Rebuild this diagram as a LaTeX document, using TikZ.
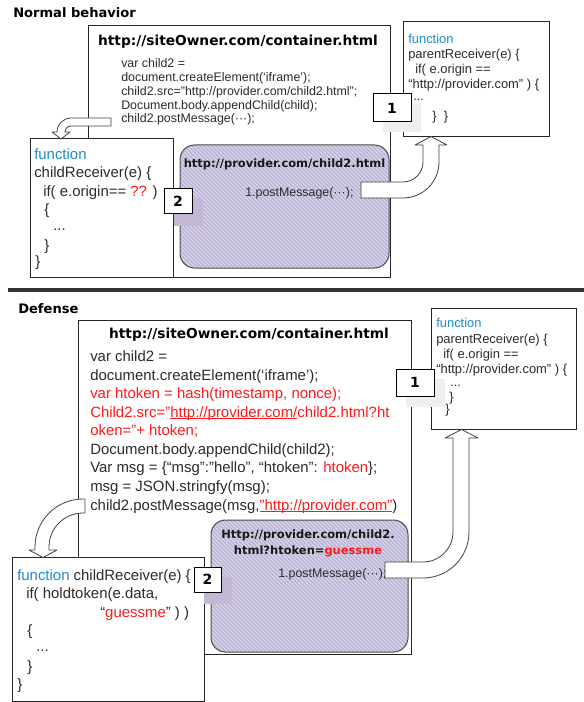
\documentclass[tikz,border=0pt]{standalone}
\usepackage{fontspec}
\setmainfont{Liberation Sans}
\newfontfamily\headfont{DejaVu Sans}
\usetikzlibrary{patterns,fit}
\definecolor{codegray}{HTML}{2B2B2B}
\definecolor{fnblue}{HTML}{1E8BD2}
\definecolor{codered}{HTML}{FF1A1A}
\definecolor{lav}{HTML}{D5D0E5}
\definecolor{lavline}{HTML}{A69EC1}
\definecolor{shadowgray}{HTML}{EFEFEF}
\definecolor{shadowlav}{HTML}{C3B7D4}
\definecolor{rule}{HTML}{333333}
% link-style underline at a fixed depth below the baseline
\newcommand\linkline[1]{\leavevmode\setbox0\hbox{#1}\rlap{\rule[-1.5pt]{\wd0}{0.6pt}}\box0}
\begin{document}
\begin{tikzpicture}[x=0.75pt,y=-0.75pt,
  panel/.style={draw=black!85, line width=0.75pt, fill=white, inner sep=0pt},
  frame/.style={draw=black!70, line width=0.75pt, inner sep=0pt, rounded corners=11pt,
    preaction={fill=lav}, pattern=north west lines, pattern color=lavline},
  numbox/.style={draw=black, line width=0.75pt, fill=white, inner sep=0pt,
    font=\headfont\bfseries\fontsize{10.5pt}{12pt}\selectfont},
  shade/.style={draw=none, inner sep=0pt},
  blockarrow/.style={draw=black!75, fill=white, line width=0.6pt, line join=round},
  heading/.style={anchor=base west, inner sep=0pt, font=\headfont\bfseries\fontsize{9.8pt}{12pt}\selectfont},
  title/.style={anchor=base, inner sep=0pt, font=\headfont\bfseries\fontsize{10.3pt}{12pt}\selectfont},
  ptitle/.style={anchor=base, inner sep=0pt, text=black!90, font=\headfont\bfseries\fontsize{8.6pt}{10pt}\selectfont},
  codes/.style={anchor=base west, inner sep=0pt, text=codegray, font=\fontsize{9.3pt}{11pt}\selectfont},
  codem/.style={anchor=base west, inner sep=0pt, text=codegray, font=\fontsize{9.7pt}{11pt}\selectfont},
  codel/.style={anchor=base west, inner sep=0pt, text=codegray, font=\fontsize{11.2pt}{13pt}\selectfont},
]
\useasboundingbox (0,0) rectangle (584,702);

% ---------------- Normal behavior ----------------
\node[heading] (hnormal) at (13,18) {Normal behavior};

\node[panel, fit={(88,26) (390,277)}] (cont1) {};
\node[panel, fit={(30,139) (173,277)}] (child1) {};
\node[frame, fit={(180,145) (389,268)}] (prov1) {};
\node[panel, fit={(403,22) (549,137)}] (par1) {};

\node[title] (t1) at (238,46) {http://siteOwner.com/container.html};
\node[codes] (a1) at (121,68) {var child2 =};
\node[codes] (a2) at (121,82) {document.createElement(‘iframe’);};
\node[codes] (a3) at (121,96) {child2.src="http://provider.com/child2.html”;};
\node[codes] (a4) at (121,109.5) {Document.body.appendChild(child);};
\node[codes] (a5) at (121,123) {child2.postMessage(···);};

\node[codem] (p1) at (408,44) {\textcolor{fnblue}{function}};
\node[codem] (p2) at (408,59) {parentReceiver(e) \{};
\node[codem] (p3) at (415,74) {if( e.origin ==};
\node[codem] (p4) at (408,89) {“http://provider.com” ) \{};
\node[codem] (p6) at (432,121) {\}\ \ \}};

\node[codel] (k1) at (34,160) {\textcolor{fnblue}{function}};
\node[codel] (k2) at (34,178) {childReceiver(e) \{};
\node[codel] (k3) at (43,196.5) {if( e.origin== \textcolor{codered}{??} )};
\node[codel] (k4) at (44,214.5) {\{};
\node[codel] (k5) at (53,230) {...};
\node[codel] (k6) at (44,250) {\}};
\node[codel] (k7) at (35,266) {\}};

\node[ptitle] (pt1) at (284.5,168) {http://provider.com/child2.html};
\node[codes] (pm1) at (245,196) {1.postMessage(···);};

% step markers
\node[shade, fill=shadowgray, fit={(383,103) (421,132)}] (s1a) {};
\node[numbox, fit={(373,94) (411,122)}] (n1a) {};
\node[numbox, draw=none, fill=none] at (n1a.center) {1};
\node[codem] (p5) at (413,101) {...};
\node[shade, fill=shadowlav, fit={(174,198) (203,226)}] (s2a) {};
\node[numbox, fit={(164,189) (192,214)}] (n2a) {};
\node[numbox, draw=none, fill=none] at (n2a.center) {2};

% arrows
\draw[blockarrow] (111,118) -- (71,118) arc[start angle=270, end angle=180, radius=14]
  -- (57,132) -- (52,132) -- (61,139) -- (70,132) -- (65,132)
  arc[start angle=180, end angle=270, radius=6] -- (111,126) -- cycle;
\draw[blockarrow] (361,182) -- (403,182) arc[start angle=90, end angle=0, radius=20]
  -- (423,145) -- (415,145) -- (431,136.5) -- (447,145) -- (439,145) -- (439,162)
  arc[start angle=0, end angle=90, radius=36] -- (361,198) -- cycle;

% divider
\draw[line width=3pt, draw=rule] (8,289.5) -- (584,289.5);

% ---------------- Defense ----------------
\node[heading] (hdef) at (18,313) {Defense};

\node[panel, fit={(78,320) (411,654)}] (cont2) {};
\node[panel, fit={(12,557) (204,701)}] (child2) {};
\node[frame, fit={(211,520) (408,652)}] (prov2) {};
\node[panel, fit={(431,308) (576,429)}] (par2) {};

\node[title] (t2) at (249,338) {http://siteOwner.com/container.html};
\node[codel] (b1) at (90,361.5) {var child2 =};
\node[codel] (b2) at (90,380) {document.createElement(‘iframe’);};
\node[codel, text=codered] (b3) at (90,398.6) {var htoken = hash(timestamp, nonce);};
\node[codel, text=codered] (b4) at (90,417.2) {Child2.src="\linkline{http://provider.com/}child2.html?ht};
\node[codel, text=codered] (b5) at (90,435.7) {oken="+ htoken;};
\node[codel] (b6) at (90,454.3) {Document.body.appendChild(child2);};
\node[codel] (b7) at (90,472.8) {Var msg = \{“msg”:”hello”, “htoken”: \textcolor{codered}{htoken}\};};
\node[codel] (b8) at (90,491.4) {msg = JSON.stringfy(msg);};
\node[codel] (b9) at (90,510) {child2.postMessage(msg,\textcolor{codered}{\linkline{"http://provider.com"}})};

\node[codem] (q1) at (436,327) {\textcolor{fnblue}{function}};
\node[codem] (q2) at (436,343) {parentReceiver(e) \{};
\node[codem] (q3) at (443,358) {if( e.origin ==};
\node[codem] (q4) at (436,373) {“http://provider.com” ) \{};
\node[codem] (q5) at (450,386) {...};
\node[codem] (q6) at (449,401) {\}};
\node[codem] (q7) at (445,413) {\}};

\node[codel] (m1) at (17,580) {\textcolor{fnblue}{function} childReceiver(e) \{};
\node[codel] (m2) at (26,598) {if( holdtoken(e.data,};
\node[codel] (m3) at (100,617) {“\textcolor{codered}{guessme}” ) )};
\node[codel] (m4) at (27,635) {\{};
\node[codel] (m5) at (36,651) {...};
\node[codel] (m6) at (27,671) {\}};
\node[codel] (m7) at (17,689) {\}};

\node[ptitle] (pt2a) at (308,538) {Http://provider.com/child2.};
\node[ptitle] (pt2b) at (308,554) {html?htoken=\textcolor{codered}{guessme}};
\node[codes] (pm2) at (278,577) {1.postMessage(···);};

% step markers
\node[shade, fill=shadowgray, fit={(406,379) (445,407)}] (s1b) {};
\node[numbox, fit={(396,369) (434,396)}] (n1b) {};
\node[numbox, draw=none, fill=none] at (n1b.center) {1};
\node[shade, fill=shadowlav, fit={(204,577) (232,604)}] (s2b) {};
\node[numbox, fit={(194,567) (221,592)}] (n2b) {};
\node[numbox, draw=none, fill=none] at (n2b.center) {2};

% arrows
\draw[blockarrow] (85,499) -- (83,499) arc[start angle=270, end angle=180, radius=48]
  -- (35,550) -- (29,550) -- (43,557.5) -- (57,550) -- (49,550) -- (49,547)
  arc[start angle=180, end angle=270, radius=34] -- (85,513) -- cycle;
\draw[blockarrow] (385,562) -- (423,562) arc[start angle=90, end angle=0, radius=30]
  -- (453,438) -- (445,438) -- (461.5,429.5) -- (478,438) -- (469,438) -- (469,532)
  arc[start angle=0, end angle=90, radius=46] -- (385,578) -- cycle;
\end{tikzpicture}
\end{document}
